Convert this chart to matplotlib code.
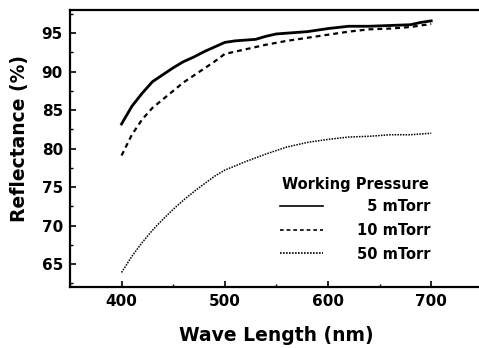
import matplotlib
matplotlib.use("Agg")
import matplotlib.pyplot as plt
from matplotlib.ticker import MultipleLocator

plt.rcParams['font.family'] = ['DejaVu Sans']
plt.rcParams['font.weight'] = 'bold'

# wavelength (nm)
wl_5 = [400, 410, 420, 430, 440, 450, 460, 470, 480, 490, 500, 510, 520, 530,
        540, 550, 560, 580, 600, 620, 640, 660, 680, 690, 700]
r_5 = [83.2, 85.5, 87.2, 88.7, 89.6, 90.5, 91.3, 91.9, 92.6, 93.2, 93.8, 94.0,
       94.1, 94.2, 94.6, 94.9, 95.0, 95.2, 95.6, 95.9, 95.9, 96.0, 96.1, 96.4, 96.6]

wl_10 = [400, 410, 420, 430, 440, 450, 460, 470, 480, 490, 500, 520, 540, 560,
         580, 600, 620, 640, 660, 680, 700]
r_10 = [79.1, 81.8, 83.8, 85.3, 86.4, 87.5, 88.6, 89.5, 90.4, 91.3, 92.3, 92.9,
        93.5, 94.0, 94.4, 94.8, 95.2, 95.5, 95.6, 95.8, 96.2]

wl_50 = [400, 410, 420, 430, 440, 450, 460, 470, 480, 490, 500, 520, 540, 560,
         580, 600, 620, 640, 660, 680, 700]
r_50 = [63.9, 66.0, 67.8, 69.4, 70.8, 72.1, 73.3, 74.4, 75.4, 76.4, 77.2, 78.3,
        79.3, 80.2, 80.8, 81.2, 81.5, 81.6, 81.8, 81.8, 82.0]

labels = ['\u20075 mTorr', '10 mTorr', '50 mTorr']

fig = plt.figure(figsize=(4.79, 3.48), dpi=100)
ax = fig.add_axes([0.146, 0.175, 0.862, 0.796])

ax.plot(wl_5, r_5, color='black', lw=2.0, label=labels[0])
ax.plot(wl_10, r_10, color='black', lw=1.6, linestyle=(0, (2.2, 1.8)), label=labels[1])
ax.plot(wl_50, r_50, color='black', lw=1.1, linestyle=(0, (1, 0.8)), label=labels[2])

ax.set_xlim(350, 750)
ax.set_ylim(62, 98)
ax.xaxis.set_major_locator(MultipleLocator(100))
ax.xaxis.set_minor_locator(MultipleLocator(50))
ax.yaxis.set_major_locator(MultipleLocator(5))
ax.yaxis.set_minor_locator(MultipleLocator(2.5))
ax.tick_params(direction='in', which='major', length=4, width=1.2, labelsize=11, pad=5)
ax.tick_params(direction='in', which='minor', length=2.5, width=1.0)
ax.set_xticks([400, 500, 600, 700])
ax.set_yticks([65, 70, 75, 80, 85, 90, 95])
for lab in ax.get_xticklabels() + ax.get_yticklabels():
    lab.set_fontweight('bold')

ax.spines['right'].set_visible(False)
for s in ['left', 'bottom', 'top']:
    ax.spines[s].set_linewidth(1.6)

ax.set_xlabel('Wave Length (nm)', fontsize=13.5, fontweight='bold', labelpad=12)
ax.set_ylabel('Reflectance (%)', fontsize=13.5, fontweight='bold')
ax.yaxis.set_label_coords(-0.1, 0.535)

leg = ax.legend(title='Working Pressure', frameon=False, loc='lower right',
                bbox_to_anchor=(0.905, 0.045), handlelength=3.0,
                handletextpad=2.3, labelspacing=0.6,
                prop={'weight': 'bold', 'size': 10.5})
leg.get_title().set_fontweight('bold')
leg.get_title().set_fontsize(10.5)
leg._legend_box.sep = 5
for h in leg.get_lines():
    h.set_linewidth(1.2)

fig.savefig('out.png', dpi=100)
